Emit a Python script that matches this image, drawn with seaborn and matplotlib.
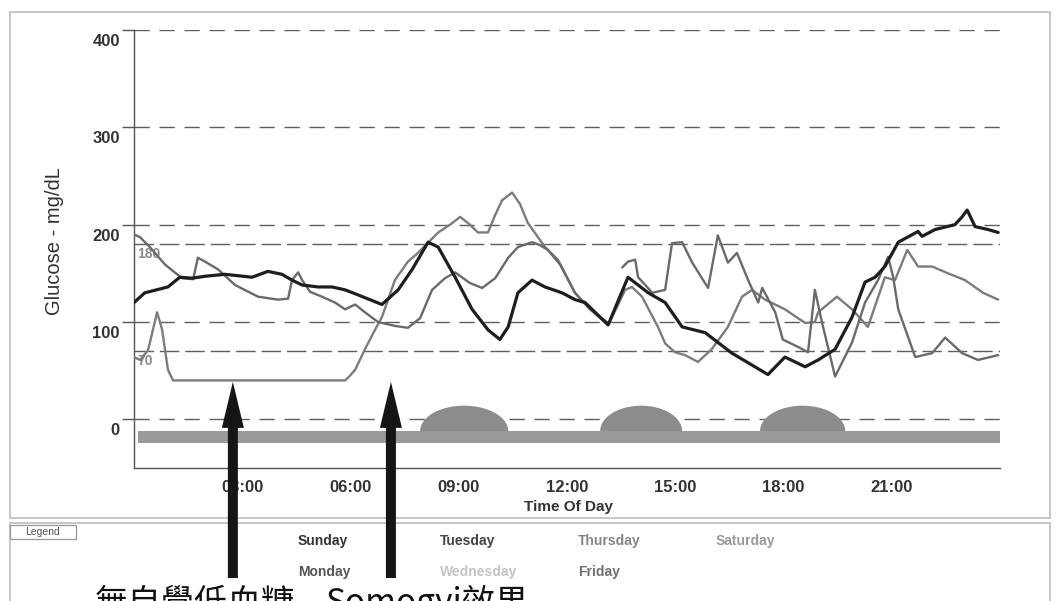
import numpy as np
import pandas as pd
import matplotlib
matplotlib.use("Agg")
import matplotlib.pyplot as plt
from matplotlib.patches import Rectangle, FancyArrow
from matplotlib.transforms import ScaledTranslation
import seaborn as sns

# ---------------- sensor glucose traces (hour of day, mg/dL) ----------------
sun_hours = [0, 0.30, 0.94, 1.27, 1.61, 1.97, 2.52, 3.27, 3.71, 4.10, 4.38, 4.66,
             5.10, 5.49, 5.85, 6.13, 6.87, 7.32, 7.71, 8.15, 8.43, 8.90, 9.37,
             9.81, 10.14, 10.37, 10.64, 11.03, 11.39, 11.86, 12.22, 12.50, 13.14,
             13.69, 14.25, 14.72, 15.19, 15.83, 16.57, 17.57, 18.04, 18.60, 18.96,
             19.43, 19.90, 20.26, 20.54, 20.81, 21.18, 21.73, 21.84, 22.20, 22.75,
             22.95, 23.09, 23.31, 23.67, 23.95]
sun_glucose = [120, 130, 136, 146, 145, 147, 149, 146, 152, 149, 143, 138,
               136, 136, 133, 129, 118, 133, 154, 182, 177, 146, 113,
               92, 82, 95, 130, 143, 136, 130, 123, 120, 97,
               146, 130, 120, 95, 89, 68, 46, 64, 54, 61,
               72, 105, 141, 146, 157, 182, 193, 188, 195, 200,
               208, 215, 198, 195, 192]

# Monday has a sensor gap around 13:15
mon_hours_a = [0, 0.17, 0.44, 0.86, 1.33, 1.64, 1.77, 1.97, 2.33, 2.80, 3.44, 3.99,
               4.27, 4.38, 4.55, 4.66, 4.88, 5.21, 5.57, 5.85, 6.13, 6.40, 6.76,
               7.23, 7.59, 7.93, 8.26, 8.62, 8.90, 9.31, 9.65, 10.01, 10.37, 10.64,
               11.03, 11.25, 11.47, 11.81, 12.22, 12.64, 13.14]
mon_glucose_a = [190, 187, 177, 159, 145, 144, 166, 162, 154, 138, 126, 123,
                 124, 143, 151, 143, 131, 126, 120, 113, 118, 110, 100,
                 96, 94, 104, 133, 145, 151, 140, 135, 145, 166, 177,
                 182, 179, 174, 159, 130, 113, 99]
mon_hours_b = [13.53, 13.69, 13.89, 13.97, 14.17, 14.36, 14.72, 14.91, 15.19, 15.47,
               15.69, 15.91, 16.18, 16.46, 16.71, 17.02, 17.30, 17.41, 17.77, 17.98,
               18.37, 18.68, 18.87, 19.07, 19.43, 19.90, 20.26, 20.62, 20.90, 21.04,
               21.18, 21.65, 22.12, 22.48, 22.95, 23.39, 23.73, 23.95]
mon_glucose_b = [156, 162, 164, 146, 138, 130, 133, 181, 182, 161,
                 148, 135, 189, 161, 171, 143, 120, 135, 110, 82,
                 75, 69, 133, 99, 44, 79, 120, 143, 167, 146,
                 113, 64, 68, 84, 68, 61, 64, 66]

tue_hours = [0, 0.17, 0.39, 0.64, 0.78, 0.94, 1.08, 2.0, 3.0, 4.0, 5.0, 5.85,
             5.99, 6.13, 6.40, 6.68, 6.87, 7.23, 7.59, 7.87, 8.43, 8.76, 9.04,
             9.31, 9.53, 9.81, 10.01, 10.20, 10.48, 10.70, 10.91, 11.39, 11.75,
             12.22, 12.64, 13.14, 13.42, 13.61, 13.80, 14.08, 14.52, 14.72, 14.99,
             15.27, 15.63, 16.01, 16.46, 16.85, 17.13, 17.49, 18.04, 18.60, 18.87,
             18.96, 19.48, 19.90, 20.34, 20.81, 21.09, 21.43, 21.73, 22.12, 22.56,
             23.03, 23.53, 23.95]
tue_glucose = [64, 61, 71, 110, 92, 51, 40, 40, 40, 40, 40, 40,
               45, 51, 72, 92, 105, 143, 162, 171, 192, 200, 208,
               200, 192, 192, 210, 225, 233, 221, 202, 177, 164,
               130, 113, 97, 118, 133, 136, 126, 95, 78, 69,
               66, 59, 72, 95, 126, 133, 123, 113, 99, 100,
               110, 126, 113, 95, 146, 143, 174, 157, 157, 150,
               143, 130, 123]

# ---------------- meals / event track ----------------
meal_start = [7.93, 12.92, 17.35]
meal_end = [10.37, 15.19, 19.71]
meal_peak = 14
track_low, track_high = -24, -12
track_span = [0.1, 24.0]

# ---------------- axis content ----------------
y_ticks = [0, 100, 200, 300, 400]
grid_levels = [0, 100, 200, 300, 400]
target_levels = [70, 180]
x_ticks = [3, 6, 9, 12, 15, 18, 21]
x_labels = ["03:00", "06:00", "09:00", "12:00", "15:00", "18:00", "21:00"]

legend_days = ["Sunday", "Monday", "Tuesday", "Wednesday", "Thursday", "Friday", "Saturday"]
legend_colors = ["#333333", "#555555", "#444444", "#c4c4c4", "#858585", "#707070", "#9a9a9a"]

notes = ["無自覺低血糖", "Somogyi效果"]
note_arrow_hours = [2.74, 7.12]

line_colors = {"Sunday": "#1e1e1e", "Monday": "#6a6a6a", "Tuesday": "#7c7c7c"}
line_widths = {"Sunday": 2.3, "Monday": 1.7, "Tuesday": 1.7}

# ---------------- assemble long-form table ----------------
frames = []
for day, seg, hrs, vals in [
    ("Tuesday", "tue", tue_hours, tue_glucose),
    ("Monday", "mon_a", mon_hours_a, mon_glucose_a),
    ("Monday", "mon_b", mon_hours_b, mon_glucose_b),
    ("Sunday", "sun", sun_hours, sun_glucose),
]:
    frames.append(pd.DataFrame({"day": day, "segment": seg, "hour": hrs, "glucose": vals}))
df = pd.concat(frames, ignore_index=True)

sns.set_theme(style="white")
plt.rcParams["font.family"] = ["Liberation Sans", "Noto Sans CJK TC", "DejaVu Sans"]

W, H = 1056, 601
fig = plt.figure(figsize=(W / 100, H / 100), dpi=100)
fig.patch.set_facecolor("white")

def fx(px):
    return px / W

def fy(py):
    return (H - py) / H

ax = fig.add_axes([fx(134), fy(468), fx(1000) - fx(134), fy(30) - fy(468)])
ax.set_facecolor("white")
ax.set_xlim(0, 24)
ax.set_ylim(-50, 400)

# dashed reference lines
for v in grid_levels:
    ax.axhline(v, color="#5e5e5e", lw=1.0, ls=(0, (11, 7)), zorder=1)
for v in target_levels:
    ax.axhline(v, color="#5e5e5e", lw=1.0, ls=(0, (14, 4.3)), zorder=1)
    ax.text(0.1, v - 10, str(v), color="#8a8a8a", fontsize=10, fontweight="bold",
            ha="left", va="center", zorder=3)

# event track with meal domes
ax.fill_between(track_span, track_low, track_high, color="#9a9a9a", lw=0, zorder=2)
t = np.linspace(0, np.pi, 80)
for s, e in zip(meal_start, meal_end):
    c, r = (s + e) / 2, (e - s) / 2
    ax.fill(c + r * np.cos(t), track_high + (meal_peak - track_high) * np.sin(t),
            color="#8c8c8c", lw=0, zorder=2)

# glucose traces
sns.lineplot(data=df, x="hour", y="glucose", hue="day", units="segment",
             estimator=None, sort=False, hue_order=["Tuesday", "Monday", "Sunday"],
             palette=line_colors, size="day", sizes=line_widths, legend=False,
             ax=ax, zorder=4)

# axes styling
for side in ["top", "right"]:
    ax.spines[side].set_visible(False)
for side in ["left", "bottom"]:
    ax.spines[side].set_color("#555555")
    ax.spines[side].set_linewidth(1.0)
ax.set_yticks(y_ticks)
ax.set_yticklabels([str(v) for v in y_ticks])
ax.set_xticks(x_ticks)
ax.set_xticklabels(x_labels)
ax.tick_params(axis="y", length=8.6, width=1.0, color="#555555", pad=1.5,
               labelsize=12, labelcolor="#333333", left=True)
ax.tick_params(axis="x", length=0, pad=8.5, labelsize=12, labelcolor="#333333")
for lab in ax.get_yticklabels() + ax.get_xticklabels():
    lab.set_fontweight("bold")
shift = ScaledTranslation(0, -0.10, fig.dpi_scale_trans)
for lab in ax.get_yticklabels():
    lab.set_transform(lab.get_transform() + shift)
ax.set_xlabel("")
ax.set_ylabel("")

fig.text(fx(55), fy(241), "Glucose - mg/dL", rotation=90, ha="center", va="center",
         fontsize=14.5, color="#333333")
fig.text(fx(568), fy(507), "Time Of Day", ha="center", va="center",
         fontsize=11, fontweight="bold", color="#333333")

# panel frames
fig.add_artist(Rectangle((fx(10), fy(518)), fx(1050) - fx(10), fy(12) - fy(518),
                         transform=fig.transFigure, fill=False, ec="#c6c6c6", lw=1.4))
fig.add_artist(Rectangle((fx(10), -0.05), fx(1050) - fx(10), fy(523) + 0.05,
                         transform=fig.transFigure, fill=False, ec="#c6c6c6", lw=1.4))
fig.add_artist(Rectangle((fx(10), fy(539)), fx(76) - fx(10), fy(525) - fy(539),
                         transform=fig.transFigure, fc="white", ec="#9a9a9a", lw=0.9))
fig.text(fx(43), fy(532), "Legend", ha="center", va="center", fontsize=7.5, color="#555555")

# day legend (text only)
col_x = [298, 440, 578, 716]
row_y = [541, 572]
for i, (day, col) in enumerate(zip(legend_days, legend_colors)):
    fig.text(fx(col_x[i // 2]), fy(row_y[i % 2]), day, ha="left", va="center",
             fontsize=10, fontweight="bold", color=col)

# annotation arrows and captions
inv = fig.transFigure.inverted()
tail_y = fy(578)
for h in note_arrow_hours:
    tip = inv.transform(ax.transData.transform((h, 38.5)))
    fig.add_artist(FancyArrow(tip[0], tail_y, 0, tip[1] - tail_y,
                              width=10 / W, head_width=22 / W, head_length=46 / H,
                              length_includes_head=True, transform=fig.transFigure,
                              color="#151515", lw=0, zorder=20))

fig.text(fx(95), fy(613), notes[0], ha="left", va="baseline", fontsize=24,
         color="#111111", family=["Noto Sans CJK TC", "DejaVu Sans"])
fig.text(fx(325), fy(613), notes[1], ha="left", va="baseline", fontsize=24,
         color="#111111", family=["Noto Sans CJK TC", "DejaVu Sans"])

fig.savefig("out.png", dpi=100)
